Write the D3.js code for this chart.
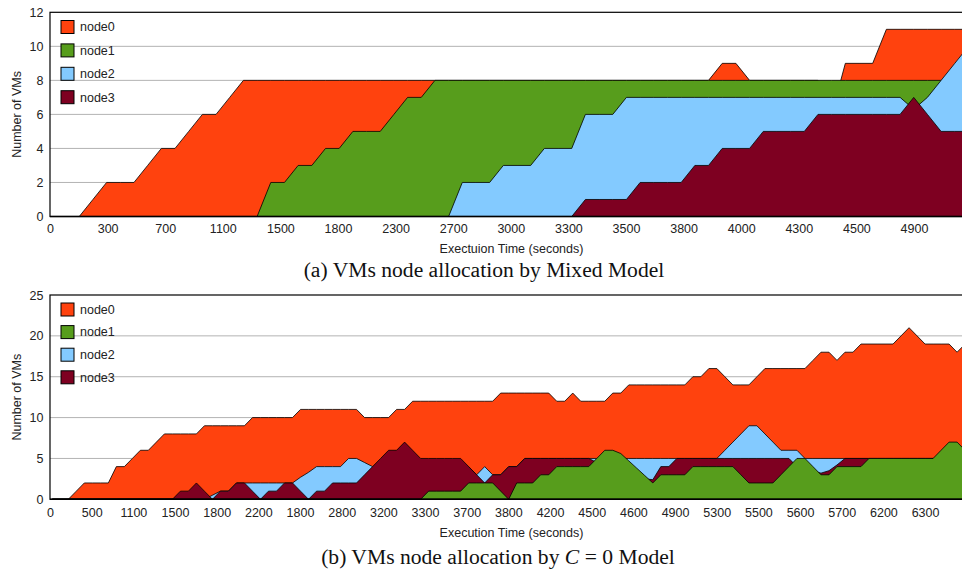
<!DOCTYPE html>
<html>
<head>
<meta charset="utf-8">
<script src="https://cdn.jsdelivr.net/npm/d3@7"></script>
<style>
  body { margin: 0; background: #fff; }
  svg { display: block; }
</style>
</head>
<body>
<div id="d3-container"></div>
<script>
// series / labels
var seriesNames = ['node0', 'node1', 'node2', 'node3'];

// (a) mixed model
var topTicks = ['0', '300', '700', '1100', '1500', '1800', '2300', '2700', '3000', '3300',
  '3500', '3800', '4000', '4300', '4500', '4900'];
var topNode0 = [0, 0, 0, 1, 2, 2, 2, 3, 4, 4, 5, 6, 6, 7, 8,
  8, 8, 8, 8, 8, 8, 8, 8, 8, 8, 8, 8, 8, 8, 8, 8, 8, 8, 8, 8, 8, 8, 8, 8, 8, 8, 8, 8, 8, 8, 8, 8, 8,
  8, 9, 9, 8, 8, 8, 8, 8, 8, 6, 9, 9, 9, 11, 11, 11, 11, 11, 11, 11];
var topNode1 = [0, 0, 0, 0, 0, 0, 0, 0, 0, 0, 0, 0, 0, 0, 0, 0,
  2, 2, 3, 3, 4, 4, 5, 5, 5, 6, 7, 7,
  8, 8, 8, 8, 8, 8, 8, 8, 8, 8, 8, 8, 8, 8, 8, 8, 8, 8, 8, 8,
  8, 8, 8, 8, 8, 8, 8, 8, 8, 8, 8, 8, 8, 8, 8, 8, 8, 8, 8, 8];
var topNode2 = [0, 0, 0, 0, 0, 0, 0, 0, 0, 0, 0, 0, 0, 0, 0, 0, 0, 0, 0, 0, 0, 0, 0, 0, 0, 0, 0, 0, 0, 0,
  2, 2, 2, 3, 3, 3, 4, 4, 4, 6, 6, 6,
  7, 7, 7, 7, 7, 7, 7, 7, 7, 7, 7, 7, 7, 7, 7, 7, 7, 7, 7, 7, 7,
  6.3, 7, 8, 9, 10];
var topNode3 = [0, 0, 0, 0, 0, 0, 0, 0, 0, 0, 0, 0, 0, 0, 0, 0, 0, 0, 0, 0,
  0, 0, 0, 0, 0, 0, 0, 0, 0, 0, 0, 0, 0, 0, 0, 0, 0, 0, 0,
  1, 1, 1, 1, 2, 2, 2, 2, 3, 3, 4, 4, 4, 5, 5, 5, 5,
  6, 6, 6, 6, 6, 6, 6, 7, 6, 5, 5, 5];

// (b) C = 0 model
var botTicks = ['0', '500', '1100', '1500', '1800', '2200', '1800', '2800', '3200', '3300',
  '3700', '3800', '4200', '4500', '4600', '4900', '5300', '5500', '5600', '5700', '6200', '6300'];
var botNode0 = [0, 0, 0, 1, 2, 2, 2, 2, 4, 4,
  5, 6, 6, 7, 8, 8, 8, 8, 8, 9,
  9, 9, 9, 9, 9, 10, 10, 10, 10, 10,
  10, 11, 11, 11, 11, 11, 11, 11, 11, 10,
  10, 10, 10, 11, 11, 12, 12, 12, 12, 12,
  12, 12, 12, 12, 12, 12, 13, 13, 13, 13,
  13, 13, 13, 12, 12, 13, 12, 12, 12, 12,
  13, 13, 14, 14, 14, 14, 14, 14, 14, 14,
  15, 15, 16, 16, 15, 14, 14, 14, 15, 16,
  16, 16, 16, 16, 16, 17, 18, 18, 17, 18,
  18, 19, 19, 19, 19, 19, 20, 21, 20, 19,
  19, 19, 19, 18, 19];
var botNode1 = [0, 0, 0, 0, 0, 0, 0, 0, 0, 0, 0, 0, 0, 0, 0, 0, 0, 0, 0, 0, 0, 0, 0,
  0, 0, 0, 0, 0, 0, 0, 0, 0, 0, 0, 0, 0, 0, 0, 0, 0, 0, 0, 0, 0, 0, 0,
  0, 1, 1, 1, 1, 1, 2, 2, 2, 2,
  1, 0, 2, 2, 2, 3, 3, 4, 4, 4,
  4, 4, 5, 6, 6, 5.6, 4.7, 3.8, 2.9, 2,
  3, 3, 3, 3, 4, 4, 4, 4, 4, 4,
  3, 2, 2, 2, 2, 3, 4, 5, 5, 4,
  3, 3, 4, 4, 4, 4, 5, 5, 5, 5,
  5, 5, 5, 5, 5, 6, 7, 7, 6];
var botNode2 = [0, 0, 0, 0, 0, 0, 0, 0, 0, 0, 0, 0, 0, 0, 0, 0, 0, 0, 0, 0,
  0.5, 1, 1, 2, 2, 2, 2, 2, 2, 2,
  2, 2.7, 3.3, 4, 4, 4, 4, 5, 5, 4.5,
  4, 4, 4, 4, 4, 4, 4, 4, 4, 4,
  4, 4, 4, 3, 4, 3, 3, 4, 4, 5,
  5, 5, 5, 5, 5, 5, 5, 5, 5, 5,
  5, 5, 5, 5, 5, 5, 5, 5, 5, 5,
  5, 5, 5, 5, 6, 7, 8, 9, 9, 8,
  7, 6, 6, 6, 5, 5, 5, 5, 5, 5,
  5, 5, 5, 5, 5, 5, 5, 5, 5, 5, 5, 5, 5, 5, 5];
var botNode3 = [0, 0, 0, 0, 0, 0, 0, 0, 0, 0, 0, 0, 0, 0, 0, 0,
  1, 1, 2, 1, 0, 1, 1, 2, 2, 1,
  0, 1, 1, 2, 2, 1, 0, 1, 1, 2,
  2, 2, 2, 3, 4, 5, 6, 6, 7, 6,
  5, 5, 5, 5, 5, 5, 4, 3, 2, 3,
  3, 4, 4, 5, 5, 5, 5, 5, 5, 5,
  5, 5, 4.5, 4, 4, 4, 3.5, 3, 2.5, 2.4,
  4, 4, 5, 5, 5, 5, 5, 5, 5, 5,
  5, 5, 5, 5, 5, 5, 5, 4, 4, 3.5,
  3.2, 3.5, 4.2, 5, 5, 5, 5, 5, 5, 5,
  5, 5, 5, 5, 5, 5, 5, 5, 5];

var colors = { node0: '#ff420e', node1: '#579d1c', node2: '#83caff', node3: '#7e0021' };

var width = 962,
  height = 571;

var svg = d3
  .select('#d3-container')
  .append('svg')
  .attr('width', width)
  .attr('height', height)
  .attr('viewBox', [0, 0, width, height].join(' '))
  .style('background-color', 'white')
  .style('font-family', "'Liberation Sans', Arial, sans-serif");

function drawPanel(p) {
  var g = svg.append('g');

  var x = d3.scaleLinear().domain([0, p.series[0].values.length - 1]).range(p.dataRange);
  var y = d3.scaleLinear().domain([0, p.yMax]).range([p.bottom, p.top]);
  var xt = d3.scaleLinear().domain([0, p.ticks.length - 1]).range(p.tickRange);

  // gridlines
  g.selectAll('.grid')
    .data(d3.range(p.yStep, p.yMax, p.yStep))
    .enter()
    .append('line')
    .attr('x1', p.left)
    .attr('x2', p.right)
    .attr('y1', function (d) { return y(d); })
    .attr('y2', function (d) { return y(d); })
    .attr('stroke', '#b3b3b3')
    .attr('stroke-width', 1);

  var area = d3
    .area()
    .x(function (d, i) { return x(i); })
    .y0(y(0))
    .y1(function (d) { return y(d); });

  // areas, in the drawing order of the source chart
  g.selectAll('.area')
    .data(p.order)
    .enter()
    .append('path')
    .attr('d', function (k) {
      return area(p.series.find(function (s) { return s.name === k; }).values);
    })
    .attr('fill', function (k) { return colors[k]; })
    .attr('stroke', '#000')
    .attr('stroke-width', 0.8)
    .attr('stroke-linejoin', 'miter');

  // frame
  g.append('rect')
    .attr('x', p.left)
    .attr('y', p.top)
    .attr('width', p.right - p.left)
    .attr('height', p.bottom - p.top)
    .attr('fill', 'none')
    .attr('stroke', '#000')
    .attr('stroke-width', 1.2);
  g.append('line')
    .attr('x1', p.left)
    .attr('x2', p.right)
    .attr('y1', p.bottom)
    .attr('y2', p.bottom)
    .attr('stroke', '#000')
    .attr('stroke-width', 1.6);

  // y axis
  var yAxis = g
    .append('g')
    .attr('transform', 'translate(' + p.left + ',0)')
    .call(d3.axisLeft(y).tickValues(d3.range(0, p.yMax + 1, p.yStep)).tickSize(0).tickPadding(6.5));
  yAxis.select('.domain').remove();
  yAxis.selectAll('text').attr('fill', '#222').style('font-size', '12.5px');

  // x axis (category labels)
  var xAxis = g
    .append('g')
    .attr('transform', 'translate(0,' + p.bottom + ')')
    .call(
      d3
        .axisBottom(xt)
        .tickValues(d3.range(p.ticks.length))
        .tickFormat(function (i) { return p.ticks[i]; })
        .tickSize(0)
        .tickPadding(p.xPad)
    );
  xAxis.select('.domain').remove();
  xAxis.selectAll('text').attr('fill', '#222').style('font-size', '12.5px');

  // axis titles
  g.append('text')
    .attr('transform', 'translate(21,' + (p.top + p.bottom) / 2 + ') rotate(-90)')
    .attr('text-anchor', 'middle')
    .attr('fill', '#222')
    .style('font-size', '12.5px')
    .text('Number of VMs');
  g.append('text')
    .attr('x', p.titleX)
    .attr('y', p.titleY)
    .attr('text-anchor', 'middle')
    .attr('fill', '#222')
    .style('font-size', '12.5px')
    .text(p.xTitle);

  // legend
  var leg = g
    .selectAll('.leg')
    .data(seriesNames)
    .enter()
    .append('g')
    .attr('transform', function (d, i) {
      return 'translate(61,' + (p.legTop + i * p.legStep) + ')';
    });
  leg.append('rect')
    .attr('x', 0)
    .attr('y', -6.5)
    .attr('width', 13)
    .attr('height', 13)
    .attr('fill', function (d) { return colors[d]; })
    .attr('stroke', '#000')
    .attr('stroke-width', 1);
  leg.append('text')
    .attr('x', 19)
    .attr('dy', '0.35em')
    .attr('fill', '#222')
    .style('font-size', '12.5px')
    .text(function (d) { return d; });
}

drawPanel({
  top: 12.3,
  bottom: 216.5,
  left: 50,
  right: 973,
  yMax: 12,
  yStep: 2,
  dataRange: [51.9, 51.9 + 67 * 13.68],
  tickRange: [50, 50 + 15 * 57.6],
  ticks: topTicks,
  xPad: 8,
  series: [
    { name: 'node0', values: topNode0 },
    { name: 'node1', values: topNode1 },
    { name: 'node2', values: topNode2 },
    { name: 'node3', values: topNode3 },
  ],
  order: ['node0', 'node1', 'node2', 'node3'],
  xTitle: 'Exectuion Time (seconds)',
  titleX: 511.5,
  titleY: 252.5,
  legTop: 27,
  legStep: 23.4,
});

drawPanel({
  top: 295,
  bottom: 499.3,
  left: 50,
  right: 973,
  yMax: 25,
  yStep: 5,
  dataRange: [52.3, 52.3 + 114 * 8.007],
  tickRange: [50, 50 + 21 * 41.67],
  ticks: botTicks,
  xPad: 8.5,
  series: [
    { name: 'node0', values: botNode0 },
    { name: 'node1', values: botNode1 },
    { name: 'node2', values: botNode2 },
    { name: 'node3', values: botNode3 },
  ],
  order: ['node0', 'node2', 'node3', 'node1'],
  xTitle: 'Execution Time (seconds)',
  titleX: 511.5,
  titleY: 536.5,
  legTop: 309.5,
  legStep: 22.6,
});

// captions
var capA = svg
  .append('text')
  .attr('x', 484)
  .attr('y', 277)
  .attr('text-anchor', 'middle')
  .style('font-family', "'Liberation Serif', 'Times New Roman', serif")
  .style('font-size', '21.6px')
  .attr('fill', '#111')
  .text('(a) VMs node allocation by Mixed Model');

var capB = svg
  .append('text')
  .attr('x', 498)
  .attr('y', 564)
  .attr('text-anchor', 'middle')
  .style('font-family', "'Liberation Serif', 'Times New Roman', serif")
  .style('font-size', '21.6px')
  .attr('fill', '#111');
capB.append('tspan').text('(b) VMs node allocation by ');
capB.append('tspan').style('font-style', 'italic').text('C');
capB.append('tspan').text(' = 0 Model');
</script>
</body>
</html>
